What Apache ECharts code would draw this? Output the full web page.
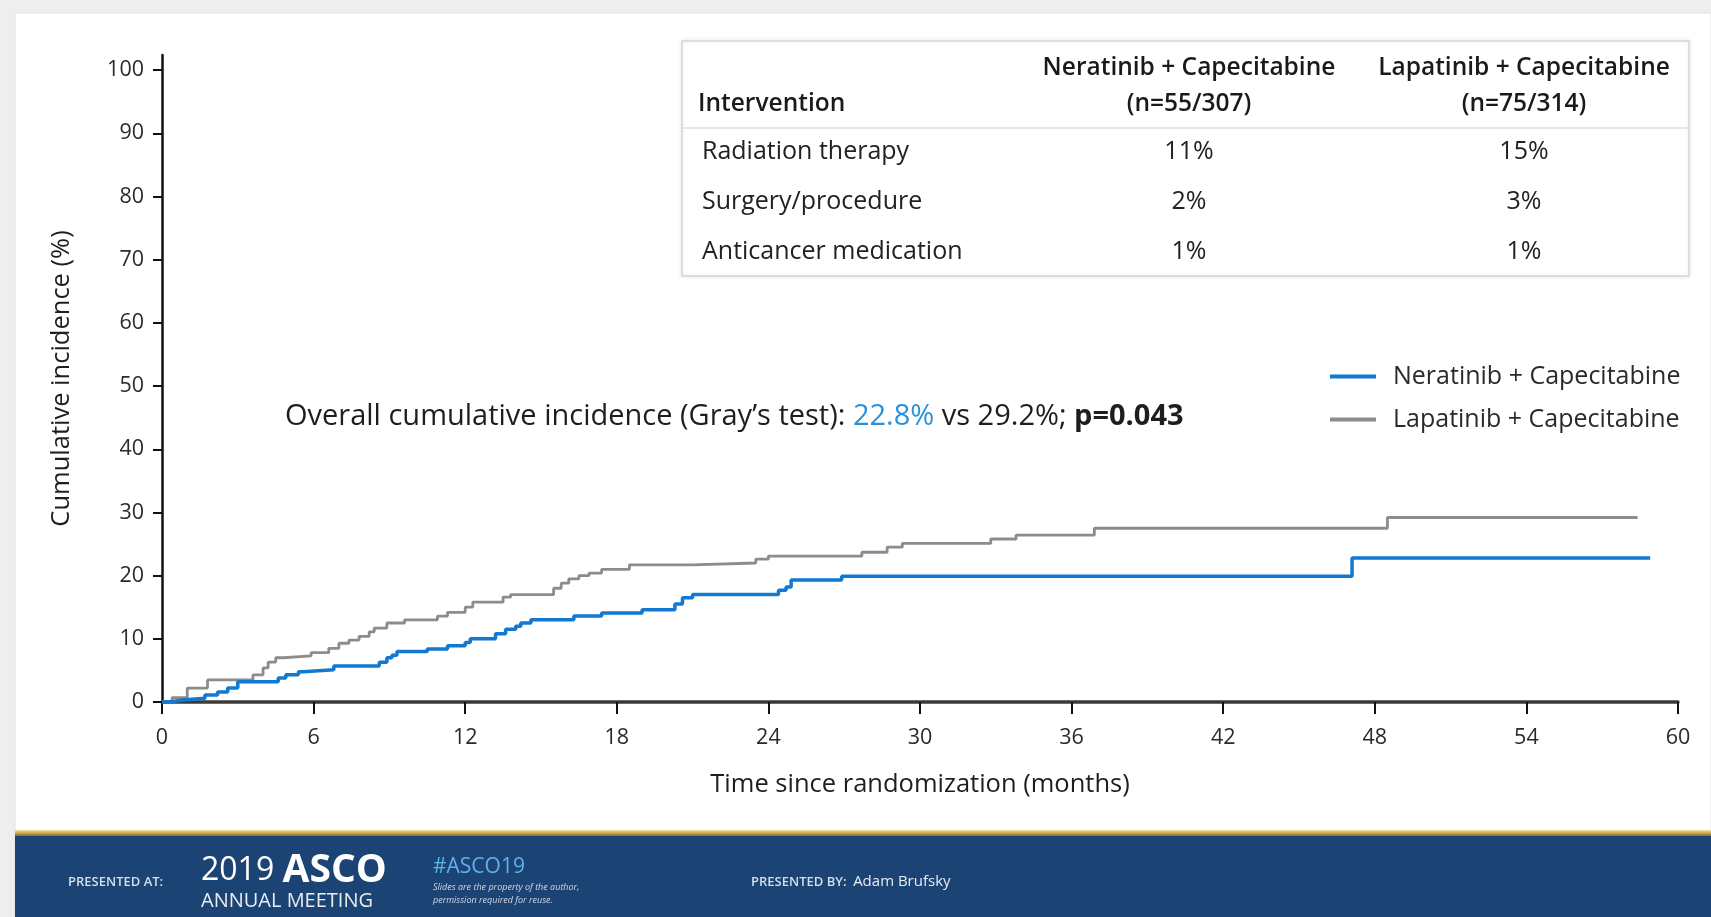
<!DOCTYPE html>
<html>
<head>
<meta charset="utf-8">
<script src="https://cdn.jsdelivr.net/npm/echarts@6/dist/echarts.min.js"></script>
<style>
  html, body { margin: 0; padding: 0; background: #eeeeee; }
  #chart { width: 1711px; height: 917px; }
</style>
</head>
<body>
<div id="chart"></div>
<script>
// Cumulative incidence of CNS intervention (step curves), months vs %
const neratinibTime = [0, 0.3, 0.8, 1.7, 2.2, 2.6, 3.0, 4.6, 4.9, 5.4, 5.6, 6.8, 8.6, 8.9, 9.1, 9.3, 10.5, 11.3, 12.0, 12.2, 13.2, 13.6, 14.0, 14.2, 14.6, 16.3, 17.4, 19.0, 20.3, 20.6, 21.0, 24.4, 24.7, 24.9, 26.9, 47.1, 58.9];
const neratinibPct  = [0, 0.3, 0.6, 1.1, 1.6, 2.2, 3.2, 3.8, 4.3, 4.8, 5.1, 5.7, 6.3, 7.0, 7.4, 8.0, 8.4, 8.9, 9.4, 10.0, 10.8, 11.5, 12.0, 12.5, 13.0, 13.6, 14.1, 14.6, 15.5, 16.5, 17.0, 17.7, 18.2, 19.3, 19.9, 22.8, 22.8];

const lapatinibTime = [0, 0.4, 1.0, 1.8, 3.6, 4.0, 4.2, 4.5, 4.8, 5.9, 6.6, 7.0, 7.4, 7.8, 8.2, 8.4, 8.9, 9.6, 10.9, 11.3, 12.0, 12.3, 13.5, 13.8, 15.5, 15.8, 16.1, 16.5, 16.9, 17.4, 18.5, 21.0, 23.5, 24.0, 27.7, 28.7, 29.3, 32.8, 33.8, 36.9, 48.5, 58.4];
const lapatinibPct  = [0, 0.7, 2.2, 3.5, 4.3, 5.4, 6.3, 7.0, 7.3, 7.8, 8.5, 9.3, 9.8, 10.4, 11.1, 11.7, 12.5, 13.0, 13.6, 14.2, 15.0, 15.8, 16.6, 17.0, 18.0, 18.8, 19.5, 20.0, 20.4, 21.0, 21.7, 22.0, 22.6, 23.1, 23.7, 24.5, 25.1, 25.8, 26.4, 27.5, 29.2, 29.2];

const seriesNames = ['Neratinib + Capecitabine', 'Lapatinib + Capecitabine'];
const xTicks = [0, 6, 12, 18, 24, 30, 36, 42, 48, 54, 60];
const yTicks = [0, 10, 20, 30, 40, 50, 60, 70, 80, 90, 100];

// Inset table: interventions for CNS disease
const tableHead = ['Intervention', 'Neratinib + Capecitabine', '(n=55/307)', 'Lapatinib + Capecitabine', '(n=75/314)'];
const tableRows = ['Radiation therapy', 'Surgery/procedure', 'Anticancer medication'];
const neratinibShare = [11, 2, 1];
const lapatinibShare = [15, 3, 1];

const grayTestP = '0.043';

const FONT = '"Open Sans", Lato, sans-serif';
const BLUE = '#1179d0';
const GRAY = '#8c8c8c';

const pairs = (ts, vs) => ts.map((t, i) => [t, vs[i]]);

const chart = echarts.init(document.getElementById('chart'), null, { renderer: 'canvas' });

// table graphic elements
const HEAD_FONT = '600 24.5px ' + FONT;
const CELL_FONT = '25px ' + FONT;
const tableEls = [
  { type: 'rect', shape: { x: 682, y: 41, width: 1007, height: 235 },
    style: { fill: '#ffffff', stroke: '#d6d6d6', lineWidth: 1.5, shadowBlur: 4, shadowColor: 'rgba(0,0,0,0.10)' }, z: 1 },
  { type: 'line', shape: { x1: 682, y1: 128, x2: 1689, y2: 128 }, style: { stroke: '#dedede', lineWidth: 1.5 }, z: 2 },
  { type: 'text', x: 698, y: 104, z: 3, style: { text: tableHead[0], font: HEAD_FONT, fill: '#1a1a1a', verticalAlign: 'middle' } },
  { type: 'text', x: 1189, y: 68, z: 3, style: { text: tableHead[1], font: HEAD_FONT, fill: '#1a1a1a', align: 'center', verticalAlign: 'middle' } },
  { type: 'text', x: 1189, y: 104, z: 3, style: { text: tableHead[2], font: HEAD_FONT, fill: '#1a1a1a', align: 'center', verticalAlign: 'middle' } },
  { type: 'text', x: 1524, y: 68, z: 3, style: { text: tableHead[3], font: HEAD_FONT, fill: '#1a1a1a', align: 'center', verticalAlign: 'middle' } },
  { type: 'text', x: 1524, y: 104, z: 3, style: { text: tableHead[4], font: HEAD_FONT, fill: '#1a1a1a', align: 'center', verticalAlign: 'middle' } }
];
tableRows.forEach((name, i) => {
  const y = 152 + i * 50;
  tableEls.push(
    { type: 'text', x: 702, y: y, z: 3, style: { text: name, font: CELL_FONT, fill: '#222', verticalAlign: 'middle' } },
    { type: 'text', x: 1189, y: y, z: 3, style: { text: neratinibShare[i] + '%', font: CELL_FONT, fill: '#222', align: 'center', verticalAlign: 'middle' } },
    { type: 'text', x: 1524, y: y, z: 3, style: { text: lapatinibShare[i] + '%', font: CELL_FONT, fill: '#222', align: 'center', verticalAlign: 'middle' } }
  );
});

const neraFinal = neratinibPct[neratinibPct.length - 1].toFixed(1) + '%';
const lapaFinal = lapatinibPct[lapatinibPct.length - 1].toFixed(1) + '%';

const footerEls = [
  { type: 'rect', shape: { x: 15, y: 830, width: 1696, height: 6 },
    style: { fill: new echarts.graphic.LinearGradient(0, 0, 0, 1, [
      { offset: 0, color: '#f3e2a6' }, { offset: 0.5, color: '#cda84a' }, { offset: 1, color: '#8a6d2a' }]) }, z: 1 },
  { type: 'rect', shape: { x: 15, y: 836, width: 1696, height: 81 }, style: { fill: '#1b4374' }, z: 1 },
  { type: 'text', x: 68, y: 882, z: 2, style: { text: 'PRESENTED AT:', font: '600 13px ' + FONT, fill: '#d8dee8', verticalAlign: 'middle', letterSpacing: 0.8 } },
  { type: 'text', x: 201, y: 871, z: 2, style: { text: '{a|2019 }{b|ASCO}', verticalAlign: 'middle',
      rich: { a: { font: '32px ' + FONT, fill: '#ffffff' }, b: { font: 'bold 39px ' + FONT, fill: '#ffffff' } } } },
  { type: 'text', x: 201, y: 901, z: 2, style: { text: 'ANNUAL MEETING', font: '20px ' + FONT, fill: '#e8ecf2', verticalAlign: 'middle', letterSpacing: 1.2 } },
  { type: 'text', x: 433, y: 867, z: 2, style: { text: '#ASCO19', font: '21px ' + FONT, fill: '#5fb2ea', verticalAlign: 'middle' } },
  { type: 'text', x: 433, y: 887, z: 2, style: { text: 'Slides are the property of the author,', font: 'italic 9px ' + FONT, fill: '#d0d8e4', verticalAlign: 'middle' } },
  { type: 'text', x: 433, y: 900, z: 2, style: { text: 'permission required for reuse.', font: 'italic 9px ' + FONT, fill: '#d0d8e4', verticalAlign: 'middle' } },
  { type: 'text', x: 751, y: 882, z: 2, style: { text: '{a|PRESENTED BY:}  {b|Adam Brufsky}', verticalAlign: 'middle',
      rich: { a: { font: '600 13px ' + FONT, fill: '#d8dee8' }, b: { font: '15px ' + FONT, fill: '#e8ecf2' } } } }
];

const option = {
  animation: false,
  backgroundColor: '#eeeeee',
  graphic: [
    { type: 'rect', shape: { x: 15, y: 13, width: 1696, height: 904 }, style: { fill: '#ffffff', stroke: '#e2e2e2', lineWidth: 1 }, z: -10 },
    ...tableEls,
    { type: 'text', x: 285, y: 417, z: 3, style: {
        text: '{n|Overall cumulative incidence (Gray\u2019s test): }{b|' + neraFinal + '}{n| vs ' + lapaFinal + '; }{p|p=' + grayTestP + '}',
        verticalAlign: 'middle',
        rich: {
          n: { font: '29px ' + FONT, fill: '#1e1e1e' },
          b: { font: '500 29px ' + FONT, fill: '#2a92dc' },
          p: { font: 'bold 29px ' + FONT, fill: '#1e1e1e' }
        } } },
    ...footerEls
  ],
  legend: {
    orient: 'vertical',
    left: 1325,
    top: 359,
    icon: 'rect',
    itemWidth: 46,
    itemHeight: 4,
    itemGap: 18,
    textStyle: { fontFamily: FONT, fontSize: 25, color: '#2a2a2a', lineHeight: 25, padding: [0, 0, 0, 12] },
    data: seriesNames
  },
  grid: { left: 162, right: 33, top: 55, bottom: 215, containLabel: false },
  xAxis: {
    type: 'value',
    min: 0, max: 60, interval: 6,
    name: 'Time since randomization (months)',
    nameLocation: 'middle',
    nameGap: 70,
    nameTextStyle: { fontFamily: FONT, fontSize: 25.5, color: '#1e1e1e' },
    axisLine: { show: true, onZero: false, lineStyle: { color: '#3a3a3a', width: 3.5 } },
    axisTick: { show: true, inside: false, length: 12, lineStyle: { color: '#111', width: 2 } },
    axisLabel: { fontFamily: FONT, fontSize: 21.5, color: '#2a2a2a', margin: 25, customValues: xTicks },
    splitLine: { show: false }
  },
  yAxis: {
    type: 'value',
    min: 0, max: 102.4,
    name: 'Cumulative incidence (%)',
    nameLocation: 'middle',
    nameRotate: 90,
    nameGap: 87,
    nameTextStyle: { fontFamily: FONT, fontSize: 25.5, color: '#1e1e1e' },
    axisLine: { show: true, onZero: false, lineStyle: { color: '#111', width: 2.5 } },
    axisTick: { show: true, inside: false, length: 9, lineStyle: { color: '#111', width: 2 }, customValues: yTicks },
    axisLabel: { fontFamily: FONT, fontSize: 21.5, color: '#2a2a2a', margin: 18, customValues: yTicks },
    splitLine: { show: false }
  },
  series: [
    {
      name: seriesNames[0], type: 'line', step: 'end', showSymbol: false, symbol: 'none',
      data: pairs(neratinibTime, neratinibPct),
      lineStyle: { color: BLUE, width: 3.5 }, itemStyle: { color: BLUE }, z: 4
    },
    {
      name: seriesNames[1], type: 'line', step: 'end', showSymbol: false, symbol: 'none',
      data: pairs(lapatinibTime, lapatinibPct),
      lineStyle: { color: GRAY, width: 2.8 }, itemStyle: { color: GRAY }, z: 3
    }
  ]
};

chart.setOption(option);
</script>
</body>
</html>
